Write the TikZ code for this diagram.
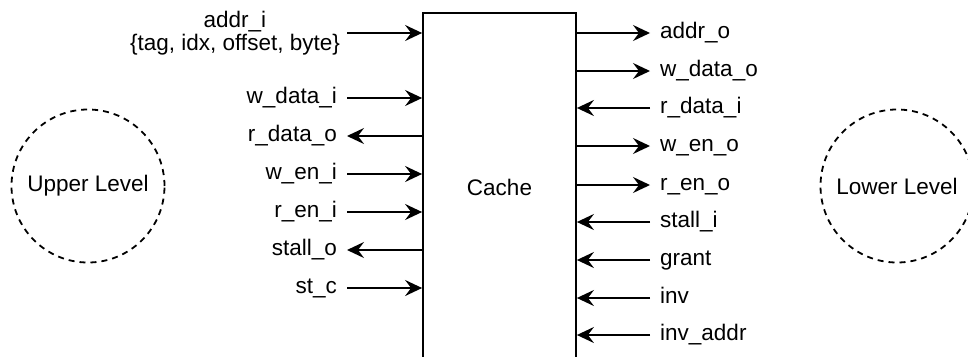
\documentclass[tikz,border=0pt]{standalone}
\usepackage{fontspec}
\setmainfont{Liberation Sans}
\usetikzlibrary{arrows.meta}
\begin{document}
\begin{tikzpicture}[x=1pt,y=-1pt,
  every node/.style={font=\fontsize{22.5}{23}\selectfont},
  wire/.style={line width=1.8pt},
  arr/.style={wire,-{Stealth[length=17pt,width=16pt,inset=6pt]}},
  lbl/.style={inner xsep=10pt,inner ysep=0pt,text height=15pt,text depth=4pt},
  llbl/.style={lbl,anchor=east},
  rlbl/.style={lbl,anchor=west},
  level/.style={circle,draw,line width=1.8pt,dash pattern=on 6pt off 5pt,minimum size=153pt,inner sep=0pt}]
\useasboundingbox (0,0) rectangle (968,356);
\clip (0,0) rectangle (968,356);
% cache block
\node[draw,line width=1.8pt,minimum width=153pt,minimum height=348pt,inner sep=0pt] (cache) at (499.5,187) {Cache};
% levels
\node[level] (upper) at (88,186) {Upper Level};
\node[level] (lower) at (897,186) {Lower Level};
% left side
\node[anchor=east,align=center,inner xsep=7pt,inner ysep=0pt] (addri) at (347,33) {addr\_i\\\{tag, idx, offset, byte\}};
\coordinate (addris) at (347,33);
\node[llbl] (wdatai) at (347,98) {w\_data\_i};
\node[llbl] (rdatao) at (347,136) {r\_data\_o};
\node[llbl] (weni) at (347,174) {w\_en\_i};
\node[llbl] (reni) at (347,212) {r\_en\_i};
\node[llbl] (stallo) at (347,250) {stall\_o};
\node[llbl] (stc) at (347,288) {st\_c};
\draw[arr] (addris) -- (cache.west |- addris);
\draw[arr] (wdatai.east) -- (cache.west |- wdatai.east);
\draw[arr] (cache.west |- rdatao.east) -- (rdatao.east);
\draw[arr] (weni.east) -- (cache.west |- weni.east);
\draw[arr] (reni.east) -- (cache.west |- reni.east);
\draw[arr] (cache.west |- stallo.east) -- (stallo.east);
\draw[arr] (stc.east) -- (cache.west |- stc.east);
% right side
\node[rlbl] (addro) at (650,33) {addr\_o};
\node[rlbl] (wdatao) at (650,71) {w\_data\_o};
\node[rlbl] (rdatai) at (650,108) {r\_data\_i};
\node[rlbl] (weno) at (650,146) {w\_en\_o};
\node[rlbl] (reno) at (650,185) {r\_en\_o};
\node[rlbl] (stalli) at (650,222) {stall\_i};
\node[rlbl] (grant) at (650,260) {grant};
\node[rlbl] (inv) at (650,298) {inv};
\node[rlbl] (invaddr) at (650,335) {inv\_addr};
\draw[arr] (cache.east |- addro.west) -- (addro.west);
\draw[arr] (cache.east |- wdatao.west) -- (wdatao.west);
\draw[arr] (rdatai.west) -- (cache.east |- rdatai.west);
\draw[arr] (cache.east |- weno.west) -- (weno.west);
\draw[arr] (cache.east |- reno.west) -- (reno.west);
\draw[arr] (stalli.west) -- (cache.east |- stalli.west);
\draw[arr] (grant.west) -- (cache.east |- grant.west);
\draw[arr] (inv.west) -- (cache.east |- inv.west);
\draw[arr] (invaddr.west) -- (cache.east |- invaddr.west);
\end{tikzpicture}
\end{document}
